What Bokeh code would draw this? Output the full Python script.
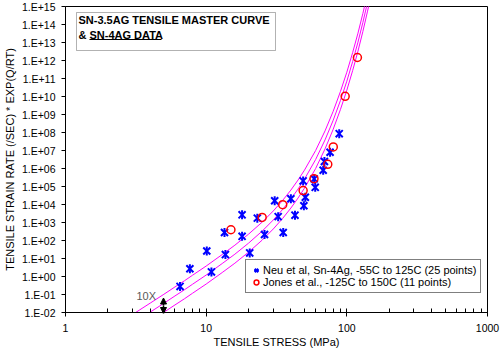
import math
from bokeh.plotting import figure
from bokeh.models import (Range1d, FixedTicker, Label, BoxAnnotation, Arrow,
                          NormalHead, Legend, LegendItem)
from bokeh.embed import file_html
from bokeh.resources import INLINE

# ---- master curve, log10 of rate ----
curve_stress = [3, 3.5, 4, 5, 6, 7, 8, 10, 13, 16, 20, 25, 30, 35, 40, 45, 50,
                60, 70, 80, 90, 100, 110, 120, 130, 140, 145]
curve_upper_log = [-2.11, -1.77, -1.48, -0.99, -0.58, -0.24, 0.07, 0.58, 1.22, 1.74,
                   2.35, 3.02, 3.64, 4.23, 4.80, 5.36, 5.91, 7.00, 8.09, 9.18,
                   10.27, 11.35, 12.44, 13.52, 14.61, 15.70, 16.24]
curve_mid_log = [-2.61, -2.27, -1.98, -1.49, -1.08, -0.74, -0.43, 0.08, 0.72, 1.24,
                 1.85, 2.52, 3.14, 3.73, 4.30, 4.86, 5.41, 6.50, 7.59, 8.68,
                 9.77, 10.85, 11.94, 13.02, 14.11, 15.20, 15.74]
curve_lower_log = [-3.11, -2.77, -2.48, -1.99, -1.58, -1.24, -0.93, -0.42, 0.22, 0.74,
                   1.35, 2.02, 2.64, 3.23, 3.80, 4.36, 4.91, 6.00, 7.09, 8.18,
                   9.27, 10.35, 11.44, 12.52, 13.61, 14.70, 15.24]

# ---- Neu et al data ----
neu_stress = [6.52, 7.66, 10.1, 10.9, 13.7, 13.5, 18.0, 20.4, 18.0, 23.1, 26.0, 30.7,
              32.5, 35.3, 40.0, 42.8, 48.9, 50.7, 49.5, 59.6, 58.6, 67.9, 69.3, 76.0, 88.3]
neu_rate = [0.28, 2.7, 26, 1.8, 16.5, 277, 171, 20.5, 2660, 1750, 215, 16200,
            2120, 277, 20800, 2560, 2.05e5, 2.52e4, 8570, 8.99e4, 2.65e5, 8.0e5,
            2.45e6, 7.98e6, 8.6e7]

# ---- Jones et al data ----
jones_stress = [15.0, 25.0, 35.0, 48.9, 58.4, 73.2, 80.1, 97.3, 118.9]
jones_rate = [395, 1910, 9720, 5.91e4, 2.72e5, 1.71e6, 1.58e7, 1.03e10, 1.47e12]

x_ticks = [1, 10, 100, 1000]
x_tick_labels = ["1", "10", "100", "1000"]
y_exponents = list(range(-2, 16))
y_tick_labels = ["1.E-02", "1.E-01", "1.E+00", "1.E+01", "1.E+02", "1.E+03", "1.E+04",
                 "1.E+05", "1.E+06", "1.E+07", "1.E+08", "1.E+09", "1.E+10", "1.E+11",
                 "1.E+12", "1.E+13", "1.E+14", "1.E+15"]

FONT = "Liberation Sans"

p = figure(width=502, height=350, x_axis_type="log", y_axis_type="log",
           x_range=Range1d(1, 1000), y_range=Range1d(1e-2, 1e15),
           output_backend="svg", toolbar_location=None,
           min_border_left=60, min_border_right=15, min_border_top=6,
           min_border_bottom=36)
p.grid.visible = False
p.outline_line_color = "black"
p.outline_line_width = 1
p.background_fill_color = "white"
p.border_fill_color = "white"

y_ticks = [10.0 ** k for k in y_exponents]
p.xaxis.ticker = FixedTicker(ticks=x_ticks,
                             minor_ticks=[m * d for d in (1, 10, 100) for m in range(2, 10)])
p.xaxis.major_label_overrides = dict(zip(x_ticks, x_tick_labels))
p.yaxis.ticker = FixedTicker(ticks=y_ticks, minor_ticks=[])
p.yaxis.major_label_overrides = dict(zip(y_ticks, y_tick_labels))

for ax in (p.xaxis, p.yaxis):
    ax.axis_line_color = "black"
    ax.major_tick_line_color = "black"
    ax.minor_tick_line_color = "black"
    ax.major_label_text_font = FONT
    ax.major_label_text_font_size = "10.5px"
    ax.major_label_text_color = "black"
    ax.axis_label_text_font = FONT
    ax.axis_label_text_font_size = "11px"
    ax.axis_label_text_font_style = "normal"
    ax.axis_label_text_color = "black"

p.xaxis.major_tick_in = 4
p.xaxis.major_tick_out = 4
p.xaxis.minor_tick_in = 4
p.xaxis.minor_tick_out = 0
p.xaxis.major_label_standoff = 7
p.xaxis.axis_label = "TENSILE STRESS (MPa)"
p.xaxis.axis_label_standoff = 1

p.yaxis.major_tick_in = 0
p.yaxis.major_tick_out = 4
p.yaxis.minor_tick_in = 0
p.yaxis.minor_tick_out = 0
p.yaxis.major_label_standoff = 6
p.yaxis.axis_label = "TENSILE STRAIN RATE (/SEC) * EXP(Q/RT)"
p.yaxis.axis_label_standoff = 3

MAG = "#FF00FF"
for logs in (curve_upper_log, curve_mid_log, curve_lower_log):
    p.line(curve_stress, [10 ** v for v in logs], line_color=MAG, line_width=1)

BLUE = "#0000FF"
r_x = p.scatter(neu_stress, neu_rate, marker="x", size=10, line_color=BLUE, line_width=2)
r_v = p.scatter(neu_stress, neu_rate, marker="dash", angle=math.pi / 2, size=9,
                line_color=BLUE, line_width=2)
r_c = p.scatter(jones_stress, jones_rate, marker="circle", size=8, fill_color=None,
                line_color="#FF0000", line_width=1.5)

# title box (drawn first, labels on top)
p.add_layout(BoxAnnotation(left=76, right=275, top=12, bottom=50,
                           left_units="canvas", right_units="canvas",
                           top_units="canvas", bottom_units="canvas",
                           fill_color="white", fill_alpha=1, line_color="black",
                           line_width=1))
p.add_layout(Label(x=78, y=19.5, x_units="canvas", y_units="canvas",
                   text="SN-3.5AG TENSILE MASTER CURVE", text_font=FONT,
                   text_font_style="bold", text_font_size="11px",
                   text_baseline="middle", text_color="black"))
p.add_layout(Label(x=78, y=34, x_units="canvas", y_units="canvas",
                   text="&", text_font=FONT, text_font_style="bold",
                   text_font_size="11px", text_baseline="middle", text_color="black"))
p.add_layout(Label(x=89, y=34, x_units="canvas", y_units="canvas",
                   text="SN-4AG DATA", text_font=FONT, text_font_style="bold",
                   text_font_size="11px", text_baseline="middle", text_color="black"))
p.add_layout(BoxAnnotation(left=89, right=161, top=38.5, bottom=39.5,
                           left_units="canvas", right_units="canvas",
                           top_units="canvas", bottom_units="canvas",
                           fill_color="black", fill_alpha=1, line_color=None))

# 10X band marker
p.add_layout(Label(x=136, y=295, x_units="canvas", y_units="canvas", text="10X",
                   text_font=FONT, text_font_size="11px", text_baseline="middle",
                   text_color="#595959"))
p.add_layout(Arrow(x_start=163, y_start=305, x_end=163, y_end=297.5,
                   start_units="canvas", end_units="canvas",
                   end=NormalHead(size=6, fill_color="black", line_color="black"),
                   line_color="black", line_width=1.5))
p.add_layout(Arrow(x_start=163, y_start=305, x_end=163, y_end=313,
                   start_units="canvas", end_units="canvas",
                   end=NormalHead(size=6, fill_color="black", line_color="black"),
                   line_color="black", line_width=1.5))

legend = Legend(items=[
    LegendItem(label="Neu et al, Sn-4Ag, -55C to 125C (25 points)", renderers=[r_x, r_v]),
    LegendItem(label="Jones et al., -125C to 150C (11 points)", renderers=[r_c]),
], location=(180, 19))
legend.border_line_color = "black"
legend.border_line_width = 1
legend.background_fill_color = "white"
legend.background_fill_alpha = 1
legend.label_text_font = FONT
legend.label_text_font_size = "11px"
legend.label_text_color = "black"
legend.padding = 4
legend.spacing = 0
legend.margin = 0
legend.glyph_width = 12
legend.glyph_height = 12
legend.label_height = 12
legend.label_standoff = 1
p.add_layout(legend)

open("out.html", "w").write(file_html(p, INLINE))
